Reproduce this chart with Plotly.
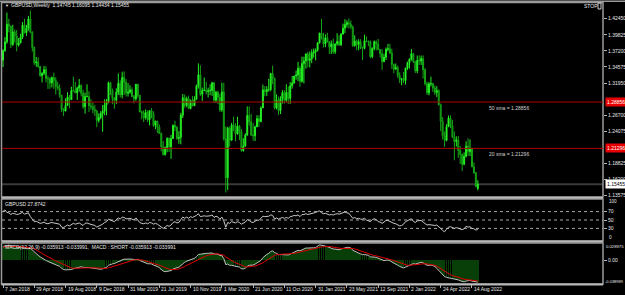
import plotly.graph_objects as go

# ---------------- data (weekly GBPUSD, week 0 = 7 Jan 2018) ----------------
opens = [1.3568,1.3727,1.3866,1.4155,1.4120,1.3825,1.4030,1.3965,1.3815,1.3850,
1.3945,1.4140,1.4015,1.4090,1.4240,1.4025,1.3775,1.3525,1.3540,1.3465,
1.3315,1.3355,1.3415,1.3270,1.3265,1.3195,1.3285,1.3235,1.3140,1.3110,
1.2995,1.2765,1.2740,1.2830,1.2970,1.2925,1.3075,1.3070,1.3035,1.3115,
1.3155,1.3030,1.2810,1.2975,1.2975,1.2825,1.2810,1.2765,1.2740,1.2585,
1.2635,1.2700,1.2735,1.2840,1.2885,1.3200,1.3075,1.2945,1.2915,1.3045,
1.3190,1.3005,1.3285,1.3210,1.3030,1.3045,1.3085,1.2975,1.2940,1.3175,
1.2995,1.2725,1.2705,1.2630,1.2715,1.2595,1.2745,1.2695,1.2505,1.2575,
1.2475,1.2375,1.2160,1.2025,1.2140,1.2290,1.2155,1.2290,1.2505,1.2475,
1.2290,1.2310,1.2670,1.2955,1.2830,1.2940,1.2780,1.2910,1.2825,1.2930,
1.3150,1.3330,1.3010,1.3075,1.3080,1.3055,1.3070,1.3075,1.3200,1.2915,
1.3045,1.2960,1.2755,1.3050,1.2285,1.1650,1.2460,1.2265,1.2510,1.2490,
1.2365,1.2495,1.2405,1.2095,1.2165,1.2345,1.2665,1.2560,1.2350,1.2335,
1.2480,1.2615,1.2565,1.2790,1.3085,1.3055,1.3090,1.3090,1.3350,1.3275,
1.2790,1.2915,1.2745,1.2945,1.3040,1.2915,1.3040,1.2945,1.3150,1.3195,
1.3310,1.3325,1.3435,1.3225,1.3515,1.3555,1.3670,1.3565,1.3590,1.3685,
1.3705,1.3730,1.3850,1.4010,1.3925,1.3835,1.3935,1.3865,1.3785,1.3835,
1.3705,1.3835,1.3875,1.3820,1.3995,1.4090,1.4150,1.4180,1.4155,1.4110,
1.3805,1.3880,1.3825,1.3870,1.3760,1.3760,1.3885,1.3875,1.3870,1.3625,
1.3760,1.3870,1.3835,1.3740,1.3675,1.3545,1.3615,1.3745,1.3755,1.3685,
1.3500,1.3420,1.3450,1.3320,1.3255,1.3265,1.3235,1.3440,1.3530,1.3585,
1.3675,1.3545,1.3395,1.3565,1.3555,1.3595,1.3410,1.3185,1.3035,1.3180,
1.3185,1.3115,1.3040,1.3075,1.2840,1.2570,1.2335,1.2260,1.2485,1.2625,
1.2495,1.2310,1.2240,1.2265,1.2095,1.2030,1.1870,1.2000,1.2165,1.2075,
1.2130,1.1830,1.1730,1.14745]
highs = [1.3744,1.3944,1.4345,1.4243,1.4136,1.4145,1.4070,1.4060,1.3930,1.4000,
1.4190,1.4245,1.4145,1.4290,1.4377,1.4040,1.3790,1.3620,1.3615,1.3475,
1.3370,1.3475,1.3470,1.3315,1.3290,1.3300,1.3365,1.3290,1.3215,1.3175,
1.3000,1.2785,1.2945,1.3045,1.3000,1.3135,1.3300,1.3215,1.3135,1.3260,
1.3175,1.3085,1.3040,1.3175,1.3060,1.2935,1.2880,1.2840,1.2760,1.2700,
1.2735,1.2835,1.2930,1.2935,1.3220,1.3215,1.3105,1.2965,1.3110,1.3350,
1.3240,1.3380,1.3385,1.3260,1.3195,1.3160,1.3125,1.3000,1.3175,1.3185,
1.3000,1.2745,1.2750,1.2765,1.2750,1.2755,1.2785,1.2735,1.2580,1.2580,
1.2520,1.2385,1.2250,1.2160,1.2310,1.2310,1.2350,1.2520,1.2580,1.2495,
1.2410,1.2710,1.3015,1.3010,1.2975,1.2990,1.2925,1.2985,1.2980,1.3170,
1.3515,1.3485,1.3120,1.3285,1.3215,1.3120,1.3175,1.3215,1.3210,1.3070,
1.3070,1.3020,1.3200,1.3200,1.2485,1.2485,1.2485,1.2545,1.2650,1.2540,
1.2645,1.2510,1.2445,1.2295,1.2375,1.2815,1.2815,1.2690,1.2545,1.2500,
1.2670,1.2670,1.2815,1.3170,1.3145,1.3145,1.3265,1.3360,1.3480,1.3285,
1.3010,1.2975,1.2980,1.3080,1.3080,1.3175,1.3140,1.3210,1.3310,1.3310,
1.3400,1.3540,1.3475,1.3625,1.3625,1.3680,1.3705,1.3710,1.3745,1.3760,
1.3760,1.3865,1.4015,1.4240,1.4015,1.3990,1.4015,1.3880,1.3890,1.3920,
1.3835,1.4010,1.3975,1.4005,1.4165,1.4235,1.4220,1.4250,1.4215,1.4135,
1.3975,1.3905,1.3910,1.3910,1.3790,1.3985,1.3955,1.3890,1.3890,1.3775,
1.3890,1.3890,1.3915,1.3750,1.3750,1.3675,1.3775,1.3835,1.3835,1.3755,
1.3510,1.3515,1.3480,1.3370,1.3275,1.3375,1.3445,1.3545,1.3600,1.3750,
1.3685,1.3560,1.3645,1.3645,1.3645,1.3645,1.3440,1.3215,1.3215,1.3300,
1.3200,1.3155,1.3145,1.3090,1.2860,1.2640,1.2405,1.2525,1.2665,1.2665,
1.2595,1.2405,1.2325,1.2330,1.2165,1.2045,1.2065,1.2245,1.2295,1.2275,
1.2140,1.1900,1.1745,1.16095]
lows = [1.3457,1.3705,1.3837,1.4023,1.3765,1.3800,1.3855,1.3712,1.3790,1.3845,
1.3915,1.4005,1.3965,1.4050,1.4005,1.3710,1.3490,1.3460,1.3445,1.3300,
1.3205,1.3325,1.3205,1.3100,1.3100,1.3125,1.3100,1.3010,1.3080,1.2955,
1.2725,1.2660,1.2730,1.2830,1.2785,1.2920,1.3055,1.3030,1.2920,1.3055,
1.2980,1.2775,1.2695,1.2965,1.2725,1.2760,1.2700,1.2660,1.2475,1.2550,
1.2605,1.2400,1.2670,1.2670,1.2865,1.3000,1.2850,1.2775,1.2855,1.3000,
1.2960,1.2945,1.3000,1.2975,1.2975,1.3020,1.2965,1.2865,1.2905,1.2955,
1.2720,1.2605,1.2560,1.2600,1.2560,1.2505,1.2620,1.2480,1.2440,1.2380,
1.2365,1.2080,1.2015,1.2015,1.2065,1.2070,1.1960,1.2285,1.2410,1.2270,
1.2205,1.2195,1.2625,1.2790,1.2800,1.2770,1.2765,1.2815,1.2820,1.2925,
1.3105,1.2985,1.2905,1.3070,1.3010,1.2960,1.3000,1.2985,1.2870,1.2875,
1.2850,1.2725,1.2725,1.2255,1.1410,1.1450,1.2160,1.2250,1.2410,1.2245,
1.2355,1.2265,1.2075,1.2075,1.2165,1.2340,1.2500,1.2330,1.2255,1.2250,
1.2480,1.2480,1.2560,1.2790,1.2980,1.2985,1.3055,1.3060,1.3175,1.2765,
1.2765,1.2675,1.2690,1.2860,1.2860,1.2880,1.2855,1.2855,1.3105,1.3185,
1.3250,1.3225,1.3135,1.3200,1.3190,1.3430,1.3450,1.3450,1.3520,1.3610,
1.3565,1.3710,1.3840,1.3905,1.3775,1.3780,1.3860,1.3670,1.3670,1.3670,
1.3670,1.3805,1.3800,1.3800,1.3985,1.4010,1.4100,1.4085,1.4075,1.3785,
1.3790,1.3730,1.3730,1.3755,1.3570,1.3745,1.3860,1.3800,1.3600,1.3600,
1.3730,1.3725,1.3735,1.3610,1.3410,1.3535,1.3570,1.3715,1.3670,1.3425,
1.3355,1.3415,1.3280,1.3195,1.3160,1.3195,1.3170,1.3410,1.3430,1.3560,
1.3520,1.3360,1.3355,1.3490,1.3490,1.3270,1.3155,1.3000,1.2995,1.3140,
1.3050,1.3000,1.2970,1.2830,1.2410,1.2275,1.2155,1.2245,1.2475,1.2460,
1.2300,1.1935,1.2160,1.1975,1.1875,1.1760,1.1855,1.1980,1.2005,1.2005,
1.1820,1.1715,1.1495,1.14434]
closes = [1.3727,1.3866,1.4155,1.4120,1.3825,1.4030,1.3965,1.3815,1.3850,1.3945,
1.4140,1.4015,1.4090,1.4240,1.4025,1.3775,1.3525,1.3540,1.3465,1.3315,
1.3355,1.3415,1.3270,1.3265,1.3195,1.3285,1.3235,1.3140,1.3110,1.2995,
1.2765,1.2740,1.2830,1.2970,1.2925,1.3075,1.3070,1.3035,1.3115,1.3155,
1.3030,1.2810,1.2975,1.2975,1.2825,1.2810,1.2765,1.2740,1.2585,1.2635,
1.2700,1.2735,1.2840,1.2885,1.3200,1.3075,1.2945,1.2915,1.3045,1.3190,
1.3005,1.3285,1.3210,1.3030,1.3045,1.3085,1.2975,1.2940,1.3175,1.2995,
1.2725,1.2705,1.2630,1.2715,1.2595,1.2745,1.2695,1.2505,1.2575,1.2475,
1.2375,1.2160,1.2025,1.2140,1.2290,1.2155,1.2290,1.2505,1.2475,1.2290,
1.2310,1.2670,1.2955,1.2830,1.2940,1.2780,1.2910,1.2825,1.2930,1.3150,
1.3330,1.3010,1.3075,1.3080,1.3055,1.3070,1.3075,1.3200,1.2915,1.3045,
1.2960,1.2755,1.3050,1.2285,1.1650,1.2460,1.2265,1.2510,1.2490,1.2365,
1.2495,1.2405,1.2095,1.2165,1.2345,1.2665,1.2560,1.2350,1.2335,1.2480,
1.2615,1.2565,1.2790,1.3085,1.3055,1.3090,1.3090,1.3350,1.3275,1.2790,
1.2915,1.2745,1.2945,1.3040,1.2915,1.3040,1.2945,1.3150,1.3195,1.3310,
1.3325,1.3435,1.3225,1.3515,1.3555,1.3670,1.3565,1.3590,1.3685,1.3705,
1.3730,1.3850,1.4010,1.3925,1.3835,1.3935,1.3865,1.3785,1.3835,1.3705,
1.3835,1.3875,1.3820,1.3995,1.4090,1.4150,1.4180,1.4155,1.4110,1.3805,
1.3880,1.3825,1.3870,1.3760,1.3760,1.3885,1.3875,1.3870,1.3625,1.3760,
1.3870,1.3835,1.3740,1.3675,1.3545,1.3615,1.3745,1.3755,1.3685,1.3500,
1.3420,1.3450,1.3320,1.3255,1.3265,1.3235,1.3440,1.3530,1.3585,1.3675,
1.3545,1.3395,1.3565,1.3555,1.3595,1.3410,1.3185,1.3035,1.3180,1.3185,
1.3115,1.3040,1.3075,1.2840,1.2570,1.2335,1.2260,1.2485,1.2625,1.2495,
1.2310,1.2240,1.2265,1.2095,1.2030,1.1870,1.2000,1.2165,1.2075,1.2130,
1.1830,1.1730,1.1510,1.15455]

rsi_values = [70,74,68,67,63,66,65,63,64,66,
68,64,65,67,58,52,46,47,45,42,
43,45,42,41,43,44,43,42,41,40,
33,32,35,38,36,40,42,40,42,43,
40,37,42,43,41,40,38,37,33,35,
38,40,44,46,52,50,47,46,51,55,
52,57,56,53,53,54,52,50,55,50,
44,42,41,43,41,44,43,40,42,40,
37,32,30,33,37,35,38,44,46,43,
44,51,57,54,57,54,58,56,58,61,
65,58,59,60,59,59,60,62,56,59,
57,52,57,48,33,44,42,46,45,43,
46,44,40,42,45,51,49,45,44,47,
50,49,53,59,58,59,59,62,61,52,
55,52,55,56,54,56,54,58,59,61,
60,62,58,63,63,65,63,64,66,66,
68,70,72,67,65,66,64,62,63,62,
64,65,64,66,68,69,67,66,60,54,
56,53,54,52,52,54,50,47,46,51,
53,51,46,45,42,45,49,49,46,43,
42,41,38,36,37,40,46,49,52,53,
47,44,48,49,49,45,42,38,39,38,
38,37,38,35,30,25,22,28,33,34,
31,30,32,30,29,27,29,35,33,34,
30,29,26,27.8742]

macd_main = [0.0232,0.0236,0.0248,0.0255,0.0246,0.0243,0.0236,0.0224,0.0215,0.0210,
0.0214,0.0210,0.0208,0.0212,0.0200,0.0174,0.0140,0.0112,0.0085,0.0060,
0.0036,0.0020,0.0000,-0.0016,-0.0030,-0.0040,-0.0051,-0.0066,-0.0080,-0.0098,
-0.0128,-0.0150,-0.0156,-0.0158,-0.0160,-0.0150,-0.0138,-0.0130,-0.0118,-0.0106,
-0.0104,-0.0114,-0.0112,-0.0110,-0.0118,-0.0122,-0.0128,-0.0132,-0.0145,-0.0148,
-0.0146,-0.0140,-0.0128,-0.0112,-0.0080,-0.0064,-0.0056,-0.0050,-0.0036,-0.0018,
-0.0012,0.0010,0.0022,0.0022,0.0024,0.0026,0.0022,0.0016,0.0022,0.0018,
0.0000,-0.0014,-0.0032,-0.0040,-0.0054,-0.0054,-0.0058,-0.0076,-0.0084,-0.0100,
-0.0120,-0.0150,-0.0176,-0.0186,-0.0182,-0.0180,-0.0168,-0.0142,-0.0124,-0.0120,
-0.0112,-0.0084,-0.0046,-0.0030,-0.0010,0.0002,0.0018,0.0024,0.0036,0.0064,
0.0100,0.0104,0.0112,0.0116,0.0118,0.0120,0.0120,0.0124,0.0110,0.0112,
0.0104,0.0080,0.0084,0.0030,-0.0068,-0.0060,-0.0080,-0.0080,-0.0086,-0.0100,
-0.0102,-0.0110,-0.0136,-0.0140,-0.0130,-0.0096,-0.0080,-0.0080,-0.0076,-0.0060,
-0.0040,-0.0028,0.0000,0.0046,0.0076,0.0100,0.0118,0.0148,0.0160,0.0130,
0.0118,0.0096,0.0098,0.0100,0.0092,0.0094,0.0090,0.0106,0.0120,0.0138,
0.0150,0.0168,0.0160,0.0180,0.0190,0.0206,0.0206,0.0204,0.0208,0.0210,
0.0214,0.0232,0.0258,0.0252,0.0240,0.0238,0.0230,0.0216,0.0208,0.0190,
0.0188,0.0186,0.0178,0.0190,0.0200,0.0212,0.0218,0.0216,0.0210,0.0170,
0.0150,0.0130,0.0122,0.0110,0.0096,0.0098,0.0092,0.0086,0.0060,0.0052,
0.0056,0.0052,0.0040,0.0024,0.0006,-0.0002,0.0004,0.0008,-0.0004,-0.0026,
-0.0046,-0.0060,-0.0080,-0.0098,-0.0112,-0.0124,-0.0110,-0.0092,-0.0076,-0.0058,
-0.0052,-0.0060,-0.0048,-0.0038,-0.0030,-0.0040,-0.0060,-0.0080,-0.0080,-0.0076,
-0.0085,-0.0100,-0.0130,-0.0165,-0.0200,-0.0240,-0.0268,-0.0280,-0.0285,-0.0292,
-0.0298,-0.0304,-0.0312,-0.0322,-0.0336,-0.0350,-0.0354,-0.0340,-0.0336,-0.0332,
-0.0342,-0.0352,-0.0358,-0.035913]

macd_signal = [0.0225,0.0227,0.0230,0.0234,0.0236,0.0238,0.0238,0.0236,0.0233,0.0230,
0.0227,0.0224,0.0221,0.0219,0.0215,0.0207,0.0194,0.0178,0.0159,0.0139,
0.0118,0.0098,0.0078,0.0059,0.0041,0.0025,0.0010,-0.0005,-0.0020,-0.0036,
-0.0054,-0.0073,-0.0090,-0.0104,-0.0116,-0.0124,-0.0129,-0.0131,-0.0132,-0.0130,
-0.0127,-0.0124,-0.0121,-0.0119,-0.0119,-0.0120,-0.0122,-0.0124,-0.0128,-0.0132,
-0.0135,-0.0137,-0.0136,-0.0132,-0.0123,-0.0113,-0.0103,-0.0093,-0.0082,-0.0070,
-0.0058,-0.0045,-0.0032,-0.0021,-0.0011,-0.0003,0.0003,0.0008,0.0013,0.0016,
0.0015,0.0010,0.0002,-0.0007,-0.0017,-0.0026,-0.0034,-0.0043,-0.0052,-0.0062,
-0.0074,-0.0089,-0.0106,-0.0122,-0.0134,-0.0143,-0.0150,-0.0151,-0.0149,-0.0146,
-0.0141,-0.0131,-0.0116,-0.0099,-0.0081,-0.0064,-0.0047,-0.0032,-0.0018,-0.0001,
0.0019,0.0036,0.0052,0.0066,0.0078,0.0088,0.0096,0.0103,0.0107,0.0110,
0.0110,0.0104,0.0100,0.0087,0.0059,0.0036,0.0014,-0.0005,-0.0021,-0.0037,
-0.0051,-0.0064,-0.0080,-0.0094,-0.0103,-0.0106,-0.0105,-0.0101,-0.0097,-0.0091,
-0.0082,-0.0072,-0.0058,-0.0039,-0.0017,0.0005,0.0027,0.0051,0.0073,0.0087,
0.0097,0.0101,0.0104,0.0107,0.0108,0.0109,0.0108,0.0109,0.0111,0.0117,
0.0124,0.0133,0.0141,0.0150,0.0159,0.0170,0.0179,0.0186,0.0192,0.0197,
0.0202,0.0208,0.0218,0.0225,0.0229,0.0232,0.0233,0.0231,0.0228,0.0221,
0.0214,0.0208,0.0202,0.0199,0.0199,0.0201,0.0205,0.0207,0.0208,0.0201,
0.0192,0.0180,0.0167,0.0153,0.0140,0.0129,0.0119,0.0111,0.0101,0.0091,
0.0084,0.0077,0.0070,0.0061,0.0050,0.0040,0.0032,0.0026,0.0019,0.0010,
-0.0001,-0.0013,-0.0027,-0.0041,-0.0055,-0.0069,-0.0077,-0.0080,-0.0079,-0.0075,
-0.0070,-0.0068,-0.0064,-0.0059,-0.0053,-0.0051,-0.0053,-0.0058,-0.0063,-0.0065,
-0.0072,-0.0080,-0.0095,-0.0115,-0.0138,-0.0162,-0.0185,-0.0205,-0.0222,-0.0237,
-0.0250,-0.0262,-0.0273,-0.0283,-0.0293,-0.0302,-0.0310,-0.0316,-0.0320,-0.0323,
-0.0327,-0.0331,-0.0336,-0.033991]

date_labels = ["7 Jan 2018", "29 Apr 2018", "19 Aug 2018", "9 Dec 2018", "31 Mar 2019",
               "21 Jul 2019", "10 Nov 2019", "1 Mar 2020", "21 Jun 2020", "11 Oct 2020",
               "31 Jan 2021", "23 May 2021", "12 Sep 2021", "2 Jan 2022", "24 Apr 2022",
               "14 Aug 2022"]
date_label_weeks = [0, 16, 32, 48, 64, 80, 96, 112, 128, 144, 160, 176, 192, 208, 224, 240]

# price scale labels (the two hidden under the red SMA tags are left out)
price_ticks = [1.13575, 1.16200, 1.18825, 1.24075, 1.26700,
               1.31950, 1.34575, 1.37200, 1.39825, 1.42450]
sma_names = ["50 sma", "20 sma"]
sma_values = [1.28856, 1.21296]
bid_price = 1.15455
rsi_levels = [30, 50, 70]
macd_ticks = [-0.038989, 0.0, 0.028975]
macd_tick_text = ["-0.038989", "0.00", "0.028975"]
header_text = "GBPUSD,Weekly  1.14745 1.16095 1.14434 1.15455"
rsi_header = "GBPUSD 27.8742"
macd_header = "MACD(12,26,9) -0.035913 -0.033991,  MACD : SHORT -0.035913 -0.033991"

# ---------------- layout helpers (pixel -> paper) ----------------
W, H = 625, 295
def px(x):
    return x / W
def py(y):
    return 1 - y / H

weeks = list(range(len(closes)))
X_LEFT, X_RIGHT = 2, 603
PX_PER_WEEK = 1.954
xr = [-(3 - X_LEFT) / PX_PER_WEEK, (X_RIGHT - 3) / PX_PER_WEEK]

MAIN = (2.5, 197.0)
RSI = (199.0, 241.0)
MACD = (243.0, 284.0)

FONT = "Liberation Sans"
TXT = "#e8e8e8"

fig = go.Figure()

fig.add_trace(go.Candlestick(
    x=weeks, open=opens, high=highs, low=lows, close=closes,
    increasing=dict(line=dict(color="#22ee22", width=1), fillcolor="#44ff44"),
    decreasing=dict(line=dict(color="#15a815", width=1), fillcolor="#0b5a0b"),
    whiskerwidth=0, xaxis="x", yaxis="y", hoverinfo="skip"))

fig.add_trace(go.Scatter(x=weeks, y=rsi_values, mode="lines",
                         line=dict(color="#c8c8c8", width=1), xaxis="x2", yaxis="y2",
                         hoverinfo="skip"))

fig.add_trace(go.Bar(x=weeks, y=macd_main, marker=dict(color="#083f08", line=dict(width=0)),
                     width=0.4, xaxis="x3", yaxis="y3", hoverinfo="skip"))
fig.add_trace(go.Scatter(x=weeks, y=macd_main, mode="lines",
                         line=dict(color="#c0c0c0", width=1), xaxis="x3", yaxis="y3",
                         hoverinfo="skip"))
fig.add_trace(go.Scatter(x=weeks, y=macd_signal, mode="lines",
                         line=dict(color="#e00000", width=1), xaxis="x3", yaxis="y3",
                         hoverinfo="skip"))

xax = dict(range=xr, domain=[px(X_LEFT), px(X_RIGHT)], showgrid=False, zeroline=False,
           showticklabels=False, showline=False, ticks="", fixedrange=True)

tickfont = dict(family=FONT, size=5, color=TXT)
yax_common = dict(side="right", showgrid=False, zeroline=False, showline=False,
                  ticks="outside", ticklen=3, tickcolor="#b0b0b0", tickwidth=1,
                  tickfont=tickfont, fixedrange=True)

price_lo = 1.13575 - (MAIN[1] - 195.7) / 613.0
price_hi = 1.13575 + (195.7 - MAIN[0]) / 613.0

fig.update_layout(
    width=W, height=H, margin=dict(l=0, r=0, t=0, b=0),
    paper_bgcolor="#000000", plot_bgcolor="#000000", showlegend=False,
    bargap=0,
    xaxis=dict(xax, rangeslider=dict(visible=False)),
    xaxis2=dict(xax, anchor="y2", matches="x"),
    xaxis3=dict(xax, anchor="y3", matches="x", ticks="outside", ticklen=3,
                tickcolor="#b0b0b0", tickvals=date_label_weeks),
    yaxis=dict(yax_common, domain=[py(MAIN[1]), py(MAIN[0])], range=[price_lo, price_hi],
               tickvals=price_ticks, ticktext=[f"{v:.5f}" for v in price_ticks], anchor="x"),
    yaxis2=dict(yax_common, domain=[py(RSI[1]), py(RSI[0])], range=[0, 100],
                tickvals=rsi_levels, ticktext=[str(v) for v in rsi_levels], anchor="x2"),
    yaxis3=dict(yax_common, domain=[py(MACD[1]), py(MACD[0])],
                range=[macd_ticks[0], macd_ticks[2]], tickvals=[0.0], ticktext=["0.00"],
                anchor="x3"),
)

shapes = []
# pane frames
for top, bot in (MAIN, RSI, MACD):
    shapes.append(dict(type="rect", xref="paper", yref="paper", x0=px(1.5), x1=px(603),
                       y0=py(bot), y1=py(top), line=dict(color="#9a9a9a", width=1.5),
                       fillcolor="rgba(0,0,0,0)", layer="above"))
# separators (thicker light gray)
for yy in (197.8, 241.6, 284.4):
    shapes.append(dict(type="line", xref="paper", yref="paper", x0=px(1.5), x1=px(603),
                       y0=py(yy), y1=py(yy), line=dict(color="#b8b8b8", width=2), layer="above"))
shapes.append(dict(type="line", xref="paper", yref="paper", x0=px(0), x1=px(625),
                   y0=py(1.2), y1=py(1.2), line=dict(color="#9a9a9a", width=1.5)))
# bid line
shapes.append(dict(type="line", xref="paper", yref="y", x0=px(X_LEFT), x1=px(X_RIGHT),
                   y0=bid_price, y1=bid_price, line=dict(color="#3a3a3a", width=2), layer="below"))
# sma lines
for v in sma_values:
    shapes.append(dict(type="line", xref="paper", yref="y", x0=px(X_LEFT), x1=px(X_RIGHT),
                       y0=v, y1=v, line=dict(color="#b00000", width=1), layer="above"))
# RSI levels
for lv in rsi_levels:
    shapes.append(dict(type="line", xref="paper", yref="y2", x0=px(X_LEFT), x1=px(X_RIGHT),
                       y0=lv, y1=lv, line=dict(color="#a8a8a8", width=1, dash="dot"),
                       layer="below"))
# STOP box
shapes.append(dict(type="rect", xref="paper", yref="paper", x0=px(598), x1=px(601),
                   y0=py(9), y1=py(3), line=dict(color="#cfcfcf", width=1)))

annotations = []
def note(x, y, text, size=5, color=TXT, xanchor="left", yanchor="middle",
         xref="paper", yref="paper", **kw):
    annotations.append(dict(x=x, y=y, xref=xref, yref=yref, text=text, showarrow=False,
                            xanchor=xanchor, yanchor=yanchor,
                            font=dict(family=FONT, size=size, color=color), **kw))

note(px(2.5), py(5.2), "▼", size=4)
note(px(8.5), py(5.2), header_text)
note(px(582), py(6), "STOP")
note(px(3), py(203.5), rsi_header)
note(px(3), py(247.3), macd_header)

for name, v in zip(sma_names, sma_values):
    note(px(487), v, f"{name} = {v:.5f}", color="#d0d0d0", yref="y", yanchor="top",
         yshift=-0.5)
    note(px(604.5), v, f"{v:.5f}", color="#ffffff", yref="y", bgcolor="#e80000",
         borderpad=1)
note(px(604.5), bid_price, f"{bid_price:.5f}", color="#000000", yref="y",
     bgcolor="#ffffff", borderpad=1)

note(px(606.5), py(201.5), "100", size=4.6)
note(px(606.5), py(237.5), "0", size=4.6)
note(px(604.5), py(246), macd_tick_text[2], size=4.2, borderpad=0)
note(px(603.6), py(281.5), macd_tick_text[0], size=4.0, borderpad=0)

for wk, lab in zip(date_label_weeks, date_labels):
    note(wk, py(289.3), lab, xref="x3")

fig.update_layout(shapes=shapes, annotations=annotations)

fig.write_html("out.html")
